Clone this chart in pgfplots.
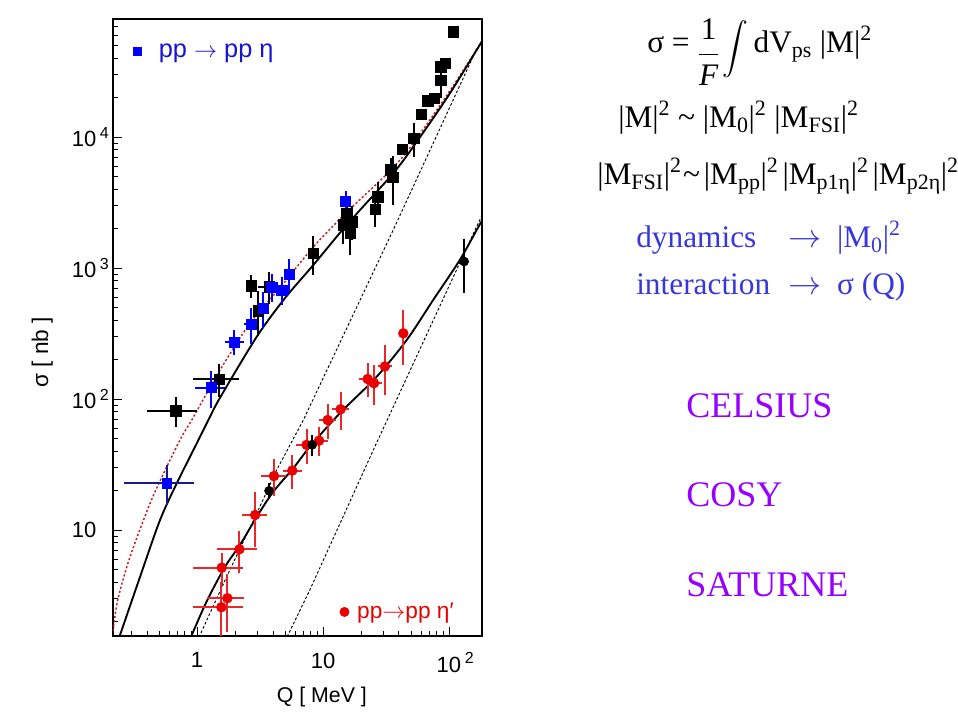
\documentclass[border=0pt]{standalone}
\usepackage{graphicx}
\usepackage{fontspec}
\setmainfont{Liberation Serif}
\newfontfamily\helv{Liberation Sans}
\usepackage{pgfplots}
\pgfplotsset{compat=1.18}
\definecolor{sqblue}{RGB}{0,0,255}
\definecolor{navyc}{RGB}{25,25,140}
\definecolor{legblue}{RGB}{20,20,210}
\definecolor{ptred}{RGB}{235,0,0}
\definecolor{errred}{RGB}{230,40,40}
\definecolor{dotred}{RGB}{200,30,30}
\definecolor{txtblue}{RGB}{55,55,220}
\definecolor{purp}{RGB}{150,0,255}
\newcommand{\tsup}[1]{\rlap{\,\raisebox{0.75ex}{\fontsize{12}{12}\selectfont #1}}}

\pgfplotstableread{
x y ex ey
0.678 81 0.25 15
1.50 142 0.5 30
2.68 730 0 100
3.75 720 0.5 150
3.07 472 0 150
8.4 1290 0 350
15.4 2620 0 600
17.1 2260 0 500
14.5 2130 0 500
16.4 1840 0 500
27.2 3500 0 700
25.9 2800 0 600
34.5 5600 0 800
35.7 4920 0 1700
42.6 8090 0 0
52.7 9770 0 2200
60 14900 0 0
67.8 18900 0 0
76.4 19700 0 0
86 34400 0 0
93 36500 0 0
86 27200 0 6000
108 63700 0 0
}\etasq

\pgfplotstableread{
x y ex ey
1.29 122 0.25 30
1.98 271 0.2 40
2.68 372 0.15 90
3.36 492 0 120
3.92 711 0 120
4.7 679 0 120
5.4 895 0 200
15.1 3230 0 400
}\etablue

\pgfplotstableread{
x y ex ey
1.56 2.57 0.55 1.1
1.74 3.01 0.44 1.2
1.57 5.15 0.55 1.0
2.17 7.12 0.6 2.0
2.89 13.0 0.4 5.0
4.08 25.8 0.6 6.0
5.7 28.4 0.5 6.0
7.4 44.6 0.8 10
9.3 48 0.7 8
10.9 69 0.7 15
13.8 83.4 1.0 20
22.6 142 1.5 30
25.4 132 1.5 35
31 177 1.5 60
43.4 317 0 120
}\etapred

\pgfplotstableread{
x y ex ey
3.73 19.9 0 1.5
8.2 44.6 0 5
132 1120 0 430
}\etapblack

\begin{document}
\begin{tikzpicture}[x=0.75pt,y=0.75pt]
\path[use as bounding box] (0,0) rectangle (958,712);
\begin{axis}[
  at={(84.75pt,57pt)}, anchor=south west,
  scale only axis, width=276.75pt, height=462.75pt,
  xmode=log, ymode=log,
  xmin=0.215, xmax=183, ymin=1.55, ymax=79600,
  axis line style={line width=0.9pt},
  xtick={1,10,100},
  xticklabels={1,10,10\tsup{2}},
  ytick={10,100,1000,10000},
  yticklabels={10,10\tsup{2},10\tsup{3},10\tsup{4}},
  minor xtick={0.3,0.4,0.5,0.6,0.7,0.8,0.9,2,3,4,5,6,7,8,9,20,30,40,50,60,70,80,90},
  minor ytick={2,3,4,5,6,7,8,9,20,30,40,50,60,70,80,90,200,300,400,500,600,700,800,900,2000,3000,4000,5000,6000,7000,8000,9000,20000,30000,40000,50000,60000,70000},
  tick pos=left,
  tick align=inside,
  major tick length=7pt, minor tick length=3.5pt,
  every tick/.style={black, line width=0.6pt},
  ticklabel style={font=\helv\fontsize{16.5}{19}\selectfont},
  xticklabel style={yshift=-9pt},
  yticklabel style={xshift=-9pt},
  xlabel={Q [ MeV ]}, ylabel={σ [ nb ]},
  label style={font=\helv\fontsize{16}{19}\selectfont},
  xlabel style={at={(axis description cs:0.566,-0.099)}, anchor=center},
  ylabel style={at={(axis description cs:-0.192,0.46)}, anchor=center, font=\helv\fontsize{17}{19}\selectfont},
  legend style={at={(0.055,0.947)}, anchor=west, draw=none, fill=none, inner sep=0pt, font=\helv\fontsize{19}{21}\selectfont, text=legblue},
  legend cell align=left,
]
\addlegendimage{only marks, mark=square*, mark size=3pt, sqblue}
\addlegendentry{\hspace{11pt}pp $\rightarrow$ pp η}

% curves
\addplot[dotred, line width=1.1pt, dash pattern=on 1.6pt off 1.6pt, smooth, forget plot] coordinates {
(0.2155,1.7) (0.235,2.95) (0.294,6.26) (0.424,16.0) (0.575,30.4) (0.756,51.6) (0.908,69.1) (1.52,166) (2.63,378) (4.56,708) (8.4,1450) (15.4,2660) (34.0,5500) (52.1,8950) (100,22000) (182,53400)};
\addplot[black, line width=1.4pt, smooth, forget plot] coordinates {
(0.235,1.41) (0.353,4.40) (0.508,11.9) (0.690,22.7) (0.995,45.9) (1.23,69.1) (1.52,102) (2.98,299) (5.0,590) (8.38,1054) (13.6,1850) (19.7,2773) (36.1,5285) (52.1,8430) (100,21000) (182,53400)};
\addplot[black, line width=0.7pt, dash pattern=on 2pt off 1.5pt, forget plot] coordinates {
(1.0,1.41) (1.72,4.40) (2.98,13.4) (4.29,28.7) (6.98,69.1) (36.1,1950) (147,36500) (165,46800)};
\addplot[black, line width=0.7pt, dash pattern=on 2pt off 1.5pt, forget plot] coordinates {
(5.0,1.42) (7.88,3.5) (25.1,40.8) (161,1950) (183,2520)};
\addplot[black, line width=1.4pt, smooth, forget plot] coordinates {
(0.88,1.47) (1.19,2.84) (1.67,5.25) (2.19,7.68) (2.98,12.6) (4.03,19.6) (5.81,29.6) (7.88,43.3) (13.6,77.8) (26.7,148) (46.2,282) (75,570) (122,1151) (166,1950) (183,2300)};

% x error bars
\addplot[draw=none, mark=none, forget plot,
  error bars/.cd, x dir=both, x explicit, y dir=none,
  error bar style={line width=1.5pt, color=black}, error mark options={mark size=3pt, line width=1.5pt, color=black}]
  table[x=x, y=y, x error=ex] {\etasq};
\addplot[draw=none, mark=none, forget plot,
  error bars/.cd, x dir=both, x explicit, y dir=none,
  error bar style={line width=1.5pt, color=sqblue}, error mark options={mark size=3pt, line width=1.5pt, color=sqblue}]
  table[x=x, y=y, x error=ex] {\etablue};
\addplot[draw=none, mark=none, forget plot,
  error bars/.cd, x dir=both, x explicit, y dir=none,
  error bar style={line width=1.5pt, color=navyc}, error mark options={mark size=3.5pt, line width=1.5pt, color=navyc}]
  coordinates {(0.575,22.7) +- (0.29,0)};
\addplot[draw=none, mark=none, forget plot,
  error bars/.cd, x dir=both, x explicit, y dir=none,
  error bar style={line width=1.5pt, color=errred}, error mark options={mark size=3.5pt, line width=1.5pt, color=errred}]
  table[x=x, y=y, x error=ex] {\etapred};

% data with y error bars
\addplot[only marks, mark=square*, mark size=3.9pt, black, forget plot,
  error bars/.cd, y dir=both, y explicit,
  error bar style={line width=1.5pt, color=black}, error mark options={mark size=3pt, line width=1.5pt, color=black}]
  table[x=x, y=y, y error=ey] {\etasq};
\addplot[only marks, mark=square*, mark size=3.8pt, sqblue, forget plot,
  error bars/.cd, y dir=both, y explicit,
  error bar style={line width=1.5pt, color=sqblue}, error mark options={mark size=3pt, line width=1.5pt, color=sqblue}]
  table[x=x, y=y, y error=ey] {\etablue};
\addplot[only marks, mark=square*, mark size=3.6pt, sqblue, forget plot,
  error bars/.cd, y dir=both, y explicit,
  error bar style={line width=1.5pt, color=navyc}, error mark options={mark size=3.5pt, line width=1.5pt, color=navyc}]
  coordinates {(0.575,22.7) +- (0,6)};
\addplot[only marks, mark=*, mark size=3.7pt, ptred, forget plot,
  error bars/.cd, y dir=both, y explicit,
  error bar style={line width=1.5pt, color=errred}, error mark options={mark size=3.5pt, line width=1.5pt, color=errred}]
  table[x=x, y=y, y error=ey] {\etapred};
\addplot[only marks, mark=*, mark size=3.4pt, black, forget plot,
  error bars/.cd, y dir=both, y explicit,
  error bar style={line width=1.5pt, color=black}, error mark options={mark size=3pt, line width=1.5pt, color=black}]
  table[x=x, y=y, y error=ey] {\etapblack};
\end{axis}

\begin{axis}[
  at={(84.75pt,57pt)}, anchor=south west,
  scale only axis, width=276.75pt, height=462.75pt,
  xmode=log, ymode=log,
  xmin=0.215, xmax=183, ymin=1.55, ymax=79600,
  hide axis,
  legend style={at={(0.614,0.039)}, anchor=west, draw=none, fill=none, inner sep=0pt, font=\helv\fontsize{17}{20}\selectfont, text=ptred},
]
\addlegendimage{only marks, mark=*, mark size=3.5pt, ptred}
\addlegendentry{\hspace{4pt}pp$\rightarrow$pp η′}
\end{axis}

% explanatory text
\begin{scope}[every node/.style={inner sep=0pt, font=\fontsize{23.5}{28}\selectfont}]
\node[anchor=base west] at (647,659) {σ = \raisebox{-7pt}{$\displaystyle\frac{\mbox{1}}{\mbox{\itshape F}}$}\hspace{2pt}\raisebox{-19pt}{\resizebox*{!}{43pt}{\raisebox{\depth}{$\displaystyle\int$}}}\hspace{4pt}dV\textsubscript{ps} |M|\textsuperscript{2}};
\node[anchor=base west] at (618,584) {|M|\textsuperscript{2} \textasciitilde{} |M\textsubscript{0}|\textsuperscript{2} |M\textsubscript{FSI}|\textsuperscript{2}};
\node[anchor=base west] at (597,527) {|M\textsubscript{FSI}|\textsuperscript{2}\hspace{1pt}\textasciitilde\hspace{3pt}|M\textsubscript{pp}|\textsuperscript{2}\hspace{3pt}|M\textsubscript{p1η}|\textsuperscript{2}\hspace{3pt}|M\textsubscript{p2η}|\textsuperscript{2}};
\node[anchor=base west, text=txtblue] at (636,464) {dynamics};
\node[anchor=base west, text=txtblue] at (788,464) {$\rightarrow$\ \ |M\textsubscript{0}|\textsuperscript{2}};
\node[anchor=base west, text=txtblue] at (636,417) {interaction};
\node[anchor=base west, text=txtblue] at (788,417) {$\rightarrow$\ \ σ (Q)};
\end{scope}
\begin{scope}[every node/.style={inner sep=0pt, font=\fontsize{27}{32}\selectfont, text=purp, anchor=base west}]
\node at (686,294) {CELSIUS};
\node at (686,205) {COSY};
\node at (686,115) {SATURNE};
\end{scope}
\end{tikzpicture}
\end{document}
